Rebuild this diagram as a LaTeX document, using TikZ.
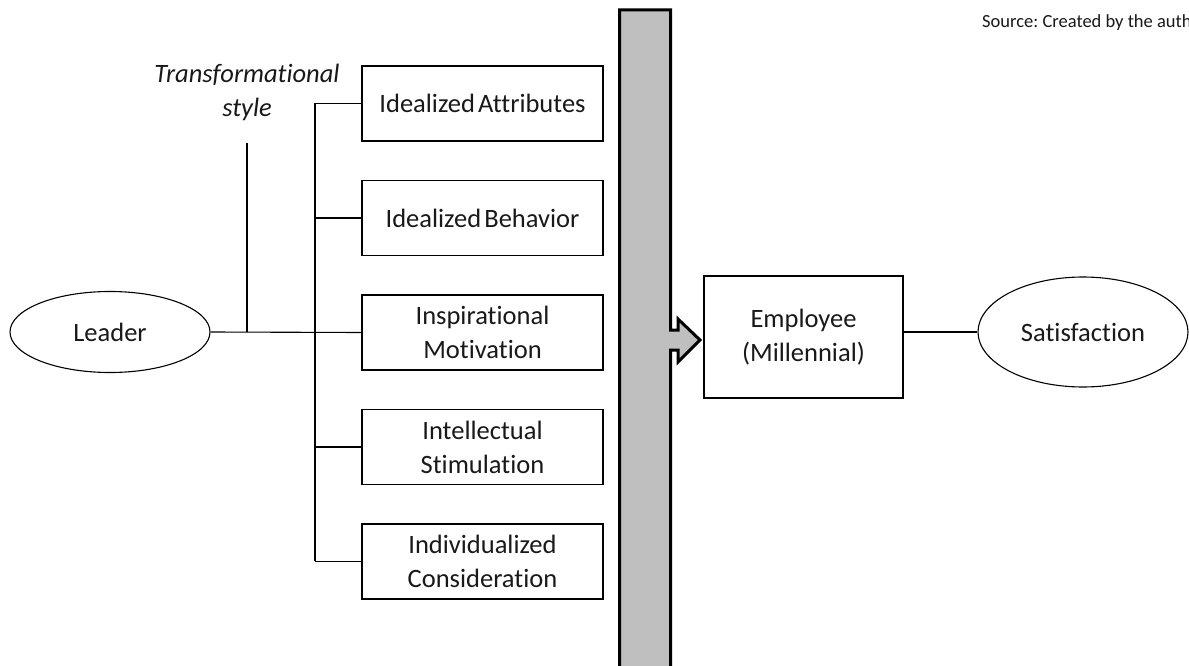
\documentclass[tikz,border=0pt]{standalone}
\usepackage{fontspec}
\setmainfont{Carlito}[RawFeature={-liga;-clig;-dlig}]
\usetikzlibrary{shapes.geometric}
\frenchspacing
\begin{document}
\begin{tikzpicture}[x=1pt,y=-1pt,
  lbl/.style={font=\fontsize{26.5}{34}\selectfont, align=center, text=black!90},
  dimbox/.style={lbl, draw, line width=1.1pt, minimum width=241pt, minimum height=75pt, inner sep=0pt},
  oval/.style={lbl, draw, ellipse, line width=1.1pt, inner sep=0pt},
  conn/.style={line width=1.1pt},
  barstyle/.style={draw=black, line width=3pt, fill=black!25, line join=miter}
]
\useasboundingbox (0,0) rectangle (1189,666);
\clip (0,0) rectangle (1189,666);
\fill[white] (0,0) rectangle (1189,666);

% gray bar with arrow
\path[barstyle] (619.5,10) -- (670.5,10) -- (670.5,330) -- (678,330) -- (678,319)
  -- (700,340) -- (678,362) -- (678,350) -- (670.5,350) -- (670.5,680) -- (619.5,680) -- cycle;

% nodes
\node[oval, minimum width=200pt, minimum height=81pt] (leader) at (110,332) {Leader};
\node[lbl, font=\fontsize{26.5}{34}\selectfont\itshape] (tstyle) at (247,92) {Transformational\\style};
\node[dimbox] (b1) at (482.5,103.5) {Idealized\hspace{0.12em}Attributes};
\node[dimbox] (b2) at (482.5,218) {Idealized\hspace{0.12em}Behavior};
\node[dimbox] (b3) at (482.5,332.5) {Inspirational\\Motivation};
\node[dimbox] (b4) at (482.5,447) {Intellectual\\Stimulation};
\node[dimbox] (b5) at (482.5,561.5) {Individualized\\Consideration};
\node[lbl, draw, line width=1.1pt, minimum width=199pt, minimum height=122pt, inner sep=0pt] (emp) at (803.5,337) {Employee\\(Millennial)};
\node[oval, minimum width=210pt, minimum height=110pt] (sat) at (1083,332) {Satisfaction};
\node[anchor=base west, font=\fontsize{18.5}{22}\selectfont, text=black!90, inner sep=0pt] (src) at (982,28) {Source: Created by the author};

% connectors
\coordinate (trunktop) at (315,103);
\coordinate (trunkbot) at (315,561);
\coordinate (stubtop) at (247,143);
\draw[conn] (leader.east) -- (b3.west);
\draw[conn] (stubtop) -- (stubtop |- leader.east);
\draw[conn] (trunktop) -- (trunkbot);
\draw[conn] (b1.west) -- (b1.west -| trunktop);
\draw[conn] (b2.west) -- (b2.west -| trunktop);
\draw[conn] (b4.west) -- (b4.west -| trunktop);
\draw[conn] (b5.west) -- (b5.west -| trunktop);
\draw[conn] (sat.west -| emp.east) -- (sat.west);
\end{tikzpicture}
\end{document}
